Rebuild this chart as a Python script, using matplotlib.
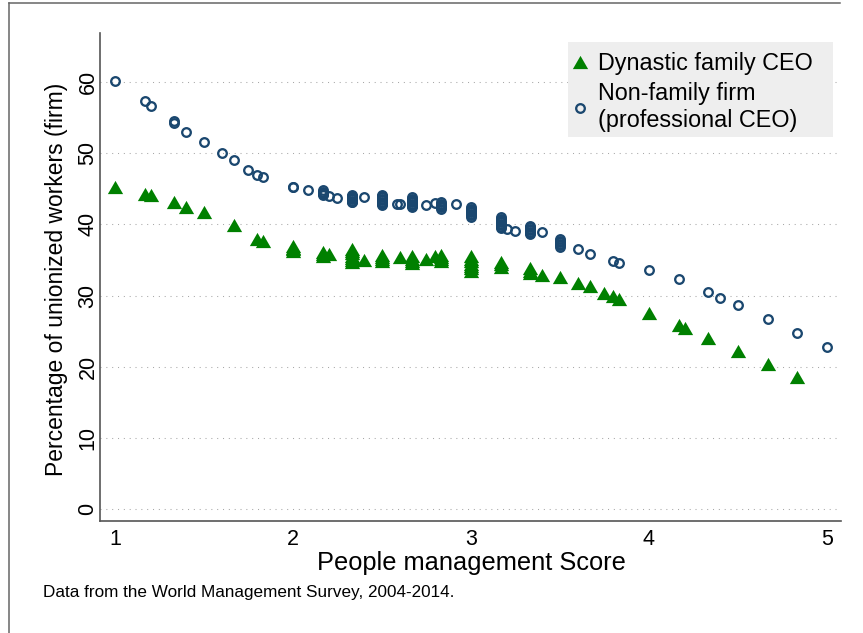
import matplotlib
matplotlib.use("Agg")
import matplotlib.pyplot as plt
from matplotlib.lines import Line2D
from matplotlib.patches import Rectangle

plt.rcParams['font.family'] = ['Liberation Sans', 'DejaVu Sans']

# ---------------- data ----------------
dyn_x = [1.0, 1.167, 1.2, 1.333, 1.4, 1.5, 1.667, 1.8, 1.833,
         2.0, 2.0, 2.0, 2.0, 2.167, 2.167, 2.167, 2.2,
         2.333, 2.333, 2.333, 2.333, 2.333, 2.333, 2.333, 2.4,
         2.5, 2.5, 2.5, 2.5, 2.6, 2.667, 2.667, 2.667, 2.667, 2.75, 2.8,
         2.833, 2.833, 2.833, 2.833, 3.0, 3.0, 3.0, 3.0, 3.0, 3.0, 3.0,
         3.167, 3.167, 3.167, 3.333, 3.333, 3.333, 3.4, 3.5, 3.6, 3.667, 3.75, 3.8, 3.833,
         4.0, 4.167, 4.2, 4.333, 4.5, 4.667, 4.833]
dyn_y = [45.3, 44.3, 44.1, 43.2, 42.5, 41.8, 39.9, 37.9, 37.7,
         36.9, 36.7, 36.5, 36.3, 36.1, 35.8, 35.5, 35.9,
         36.6, 36.3, 36.0, 35.6, 35.3, 35.0, 34.7, 35.0,
         35.7, 35.4, 35.1, 34.8, 35.4, 35.5, 35.2, 34.9, 34.6, 35.2, 35.5,
         35.7, 35.4, 35.1, 34.8, 35.5, 35.2, 34.8, 34.5, 34.1, 33.8, 33.4,
         34.7, 34.4, 34.0, 33.8, 33.5, 33.1, 32.9, 32.6, 31.8, 31.3, 30.4, 29.9, 29.5,
         27.6, 25.9, 25.5, 24.1, 22.2, 20.4, 18.6]

nonfam_x = [1.0, 1.167, 1.2, 1.333, 1.333, 1.4, 1.5, 1.6, 1.667, 1.75, 1.8, 1.833,
            2.0, 2.0, 2.083, 2.167, 2.167, 2.167, 2.167, 2.167, 2.2, 2.25,
            2.333, 2.333, 2.333, 2.333, 2.333, 2.333, 2.333, 2.333, 2.4,
            2.5, 2.5, 2.5, 2.5, 2.5, 2.5, 2.5, 2.5, 2.5, 2.583, 2.6,
            2.667, 2.667, 2.667, 2.667, 2.667, 2.667, 2.667, 2.667, 2.667, 2.75, 2.8,
            2.833, 2.833, 2.833, 2.833, 2.833, 2.833, 2.917,
            3.0, 3.0, 3.0, 3.0, 3.0, 3.0, 3.0, 3.0,
            3.167, 3.167, 3.167, 3.167, 3.167, 3.167, 3.167, 3.167, 3.167, 3.2, 3.25,
            3.333, 3.333, 3.333, 3.333, 3.333, 3.333, 3.333, 3.4,
            3.5, 3.5, 3.5, 3.5, 3.5, 3.5, 3.6, 3.667, 3.8, 3.833,
            4.0, 4.167, 4.333, 4.4, 4.5, 4.667, 4.833, 5.0]
nonfam_y = [60.2, 57.4, 56.6, 54.5, 54.2, 53.0, 51.6, 50.0, 49.0, 47.7, 47.0, 46.7,
            45.3, 45.2, 44.8, 44.8, 44.6, 44.4, 44.3, 44.1, 44.0, 43.7,
            44.1, 43.95, 43.8, 43.65, 43.5, 43.35, 43.2, 43.1, 43.9,
            44.1, 43.95, 43.8, 43.6, 43.4, 43.2, 43.0, 42.85, 42.7, 42.8, 42.9,
            43.8, 43.6, 43.45, 43.3, 43.1, 42.9, 42.75, 42.6, 42.4, 42.7, 43.0,
            43.1, 42.9, 42.75, 42.6, 42.4, 42.2, 42.8,
            42.4, 42.2, 42.0, 41.85, 41.7, 41.5, 41.3, 41.1,
            41.0, 40.8, 40.6, 40.45, 40.3, 40.1, 39.9, 39.7, 39.5, 39.4, 39.1,
            39.8, 39.6, 39.4, 39.2, 39.0, 38.8, 38.6, 39.0,
            37.9, 37.7, 37.5, 37.3, 37.05, 36.8, 36.5, 35.8, 34.9, 34.6,
            33.6, 32.3, 30.5, 29.7, 28.6, 26.7, 24.8, 22.8]

x_ticks = [1, 2, 3, 4, 5]
y_ticks = [0, 10, 20, 30, 40, 50, 60]
labels = ["Dynastic family CEO", "Non-family firm\n(professional CEO)"]

# ---------------- figure ----------------
W, H = 863, 633
fig = plt.figure(figsize=(W / 100, H / 100), dpi=100)
ax = fig.add_axes([100 / W, 1 - 521 / H, 741 / W, 488 / H])

tri = [(-1, -0.866), (1, -0.866), (0, 0.866), (-1, -0.866)]
green = '#008000'
navy = '#1a476f'

ax.plot(dyn_x, dyn_y, linestyle='none', marker=tri, markersize=11,
        color=green, markeredgewidth=0, label=labels[0], zorder=3)
ax.plot(nonfam_x, nonfam_y, linestyle='none', marker='o', markersize=6.2,
        markerfacecolor='none', markeredgecolor=navy, markeredgewidth=1.65,
        label=labels[1], zorder=4)

ax.set_xlim(0.916, 5.079)
ax.set_ylim(-1.69, 66.9)
ax.set_xticks(x_ticks)
ax.set_yticks(y_ticks)
ax.tick_params(axis='both', length=0, labelsize=15.5)
ax.tick_params(axis='x', pad=6)
ax.tick_params(axis='y', pad=1)
for t in ax.get_yticklabels():
    t.set_rotation(90)
    t.set_va('center')

ax.grid(axis='y', color='#a8a8a8', linestyle=(0, (1, 4.6)), linewidth=0.75)
ax.set_axisbelow(True)
for s in ['top', 'right']:
    ax.spines[s].set_visible(False)
for s in ['left', 'bottom']:
    ax.spines[s].set_color('#555555')
    ax.spines[s].set_linewidth(1.2)

ax.set_xlabel("People management Score", fontsize=18.3, va='center')
ax.xaxis.set_label_coords((471 - 100) / 741, -(563 - 521) / 488)
ax.set_ylabel("Percentage of unionized workers (firm)", fontsize=16.5, va='center')
ax.yaxis.set_label_coords((57 - 100) / 741, (521 - 279.5) / 488)

# legend background box
ax.add_patch(Rectangle((568 / W, 1 - 137 / H), 265 / W, 95 / H,
                       transform=fig.transFigure, facecolor='#eeeeee',
                       edgecolor='none', clip_on=False, zorder=5))

leg = ax.legend(loc='upper left', bbox_to_anchor=(568 / W, 1 - 45 / H),
                bbox_transform=fig.transFigure, borderaxespad=0,
                fontsize=16.8, frameon=False,
                handlelength=0.43, handletextpad=0.56, borderpad=0.3,
                labelspacing=0.3)
leg.set_zorder(6)

fig.text(43 / W, 1 - 592 / H, "Data from the World Management Survey, 2004-2014.",
         fontsize=12.3, va='center', ha='left')

# outer frame lines (top and left)
fig.add_artist(Line2D([9 / W, 840 / W], [1 - 3 / H, 1 - 3 / H],
                      transform=fig.transFigure, color='#666666', linewidth=1.1))
fig.add_artist(Line2D([9 / W, 9 / W], [1 - 3 / H, 0],
                      transform=fig.transFigure, color='#666666', linewidth=1.1))

fig.savefig("out.png", dpi=100)
